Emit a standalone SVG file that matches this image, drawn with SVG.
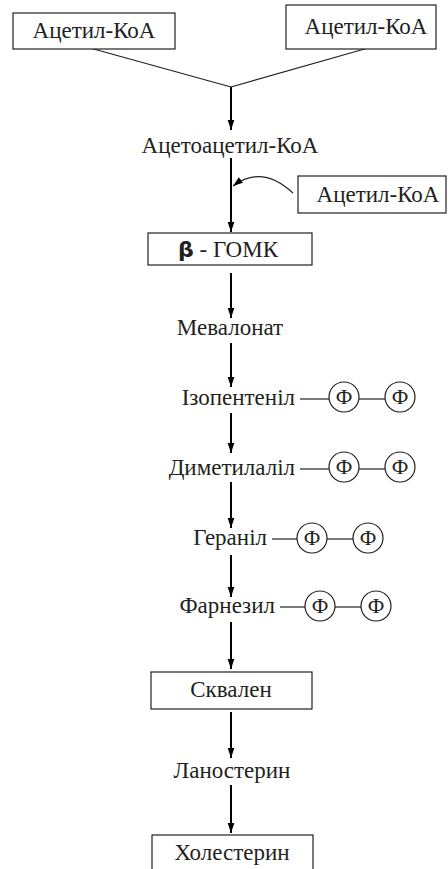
<svg xmlns="http://www.w3.org/2000/svg" width="448" height="869" viewBox="0 0 448 869">
<defs>
<style>
text{font-family:"Liberation Serif","Times New Roman",serif;font-size:23px;fill:#231f20}
.phi{font-size:21px}
.box{fill:#fff;stroke:#231f20;stroke-width:1.2}
.thin{fill:none;stroke:#231f20;stroke-width:1.2}
.arr{fill:none;stroke:#000;stroke-width:2}
.c{fill:none;stroke:#231f20;stroke-width:1.2}
.beta{font-family:"DejaVu Sans",sans-serif;font-weight:bold;font-size:22px}
</style>
<marker id="ah" markerUnits="userSpaceOnUse" markerWidth="10" markerHeight="14" refX="12" refY="4" orient="auto" viewBox="0 0 12 8">
<path d="M0,0 L12,4 L0,8 z" fill="#000"/>
</marker>
<marker id="ah2" markerUnits="userSpaceOnUse" markerWidth="10" markerHeight="8" refX="10" refY="3.5" orient="auto" viewBox="0 0 10 7">
<path d="M0,0 L10,3.5 L0,7 z" fill="#000"/>
</marker>
</defs>
<g id="connectors">
<line class="thin" x1="90" y1="48" x2="231" y2="87"/>
<line class="thin" x1="368" y1="48" x2="231" y2="87"/>
<line class="arr" x1="231" y1="87" x2="231" y2="130" marker-end="url(#ah)"/>
<line class="arr" x1="231" y1="158" x2="231" y2="232" marker-end="url(#ah)"/>
<path class="thin" d="M293,193 Q262,164 233,186" marker-end="url(#ah2)"/>
<line class="arr" x1="231" y1="273" x2="231" y2="318" marker-end="url(#ah)"/>
<line class="arr" x1="231" y1="343" x2="231" y2="387" marker-end="url(#ah)"/>
<line class="arr" x1="231" y1="413" x2="231" y2="453" marker-end="url(#ah)"/>
<line class="arr" x1="231" y1="482" x2="231" y2="528" marker-end="url(#ah)"/>
<line class="arr" x1="231" y1="555" x2="231" y2="597" marker-end="url(#ah)"/>
<line class="arr" x1="231" y1="622" x2="231" y2="669" marker-end="url(#ah)"/>
<line class="arr" x1="231" y1="712" x2="231" y2="758" marker-end="url(#ah)"/>
<line class="arr" x1="231" y1="785" x2="231" y2="833" marker-end="url(#ah)"/>
</g>
<g id="n1"><rect class="box" x="13" y="13" width="162" height="36"/><text x="94" y="38" text-anchor="middle">Ацетил-КоА</text></g>
<g id="n2"><rect class="box" x="286" y="5" width="150" height="44"/><text x="366" y="34" text-anchor="middle">Ацетил-КоА</text></g>
<g id="n3"><text x="230" y="153" text-anchor="middle">Ацетоацетил-КоА</text></g>
<g id="n4"><rect class="box" x="298" y="176" width="148" height="37"/><text x="378" y="202" text-anchor="middle">Ацетил-КоА</text></g>
<g id="n5"><rect class="box" x="148" y="233" width="164" height="32"/><text x="228" y="257" text-anchor="middle"><tspan class="beta">β</tspan> - ГОМК</text></g>
<g id="n6"><text x="230" y="335" text-anchor="middle">Мевалонат</text></g>
<g id="n7"><text x="295" y="405" text-anchor="end">Ізопентеніл</text><line class="thin" x1="300" y1="399" x2="329" y2="399"/><circle class="c" cx="344" cy="397" r="15"/><text class="phi" x="344" y="404" text-anchor="middle">Ф</text><line class="thin" x1="359" y1="399" x2="385" y2="399"/><circle class="c" cx="400" cy="397" r="15"/><text class="phi" x="400" y="404" text-anchor="middle">Ф</text></g>
<g id="n8"><text x="295" y="475" text-anchor="end">Диметилаліл</text><line class="thin" x1="300" y1="469" x2="329" y2="469"/><circle class="c" cx="344" cy="467" r="15"/><text class="phi" x="344" y="474" text-anchor="middle">Ф</text><line class="thin" x1="359" y1="469" x2="385" y2="469"/><circle class="c" cx="400" cy="467" r="15"/><text class="phi" x="400" y="474" text-anchor="middle">Ф</text></g>
<g id="n9"><text x="267" y="545" text-anchor="end">Геранiл</text><line class="thin" x1="272" y1="539" x2="297" y2="539"/><circle class="c" cx="312" cy="538" r="15"/><text class="phi" x="312" y="545" text-anchor="middle">Ф</text><line class="thin" x1="327" y1="539" x2="353" y2="539"/><circle class="c" cx="368" cy="538" r="15"/><text class="phi" x="368" y="545" text-anchor="middle">Ф</text></g>
<g id="n10"><text x="275" y="613" text-anchor="end">Фарнезил</text><line class="thin" x1="280" y1="607" x2="305" y2="607"/><circle class="c" cx="320" cy="606" r="15"/><text class="phi" x="320" y="613" text-anchor="middle">Ф</text><line class="thin" x1="335" y1="607" x2="361" y2="607"/><circle class="c" cx="376" cy="606" r="15"/><text class="phi" x="376" y="613" text-anchor="middle">Ф</text></g>
<g id="n11"><rect class="box" x="151" y="672" width="161" height="37"/><text x="231" y="697" text-anchor="middle">Сквален</text></g>
<g id="n12"><text x="232" y="778" text-anchor="middle">Ланостерин</text></g>
<g id="n13"><rect class="box" x="152" y="835" width="161" height="40"/><text x="232" y="860" text-anchor="middle">Холестерин</text></g>
</svg>
